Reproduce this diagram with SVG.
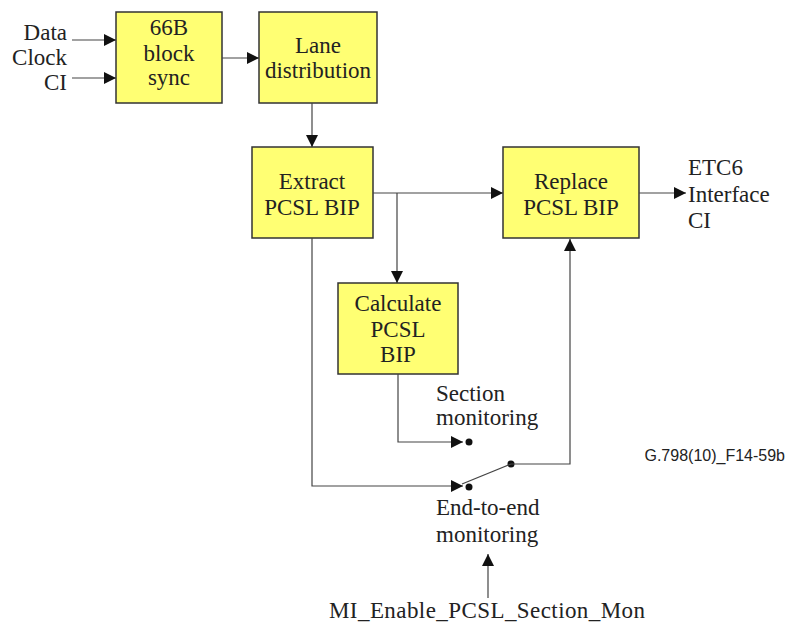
<svg xmlns="http://www.w3.org/2000/svg" width="788" height="626" viewBox="0 0 788 626">
<style>
.box{fill:#ffff73;stroke:#333;stroke-width:1.5}
.t{font-family:"Liberation Serif",serif;font-size:23px;fill:#222}
.c{text-anchor:middle}
.ln{fill:none;stroke:#444;stroke-width:1.2}
.dot{fill:#111}
</style>
<defs>
<marker id="ah" markerWidth="12" markerHeight="12" refX="12" refY="6" orient="auto" markerUnits="userSpaceOnUse">
<path d="M0,0 L12,6 L0,12 z" fill="#111"/>
</marker>
</defs>
<rect width="788" height="626" fill="#fff"/>
<g id="inputs">
<text class="t" x="67" y="40" text-anchor="end">Data</text>
<text class="t" x="67" y="65" text-anchor="end">Clock</text>
<text class="t" x="67" y="90" text-anchor="end">CI</text>
</g>
<g id="sync">
<rect class="box" x="116" y="12" width="106" height="91"/>
<text class="t c" x="169" y="35">66B</text>
<text class="t c" x="169" y="61">block</text>
<text class="t c" x="169" y="85">sync</text>
</g>
<g id="lane">
<rect class="box" x="259" y="12" width="118" height="91"/>
<text class="t c" x="318" y="53">Lane</text>
<text class="t c" x="318" y="78">distribution</text>
</g>
<g id="extract">
<rect class="box" x="252" y="147" width="121" height="91"/>
<text class="t c" x="312" y="189">Extract</text>
<text class="t c" x="312" y="215">PCSL BIP</text>
</g>
<g id="replace">
<rect class="box" x="503" y="147" width="136" height="91"/>
<text class="t c" x="571" y="189">Replace</text>
<text class="t c" x="571" y="215">PCSL BIP</text>
</g>
<g id="calculate">
<rect class="box" x="338" y="283" width="120" height="91"/>
<text class="t c" x="398" y="311">Calculate</text>
<text class="t c" x="398" y="337">PCSL</text>
<text class="t c" x="398" y="362">BIP</text>
</g>
<g id="output">
<text class="t" x="688" y="175">ETC6</text>
<text class="t" x="688" y="202">Interface</text>
<text class="t" x="688" y="228">CI</text>
</g>
<g id="section-label">
<text class="t" x="436" y="401">Section</text>
<text class="t" x="436" y="425">monitoring</text>
</g>
<g id="e2e-label">
<text class="t" x="436" y="515">End-to-end</text>
<text class="t" x="436" y="542">monitoring</text>
</g>
<g id="mi">
<text class="t" x="329" y="618" textLength="316" lengthAdjust="spacing">MI_Enable_PCSL_Section_Mon</text>
</g>
<g id="figid">
<text x="785" y="461" text-anchor="end" font-family="Liberation Sans,sans-serif" font-size="16" fill="#222">G.798(10)_F14-59b</text>
</g>
<g id="connectors">
<line class="ln" x1="72" y1="40" x2="116" y2="40" marker-end="url(#ah)"/>
<line class="ln" x1="72" y1="78" x2="116" y2="78" marker-end="url(#ah)"/>
<line class="ln" x1="222" y1="58" x2="259" y2="58" marker-end="url(#ah)"/>
<line class="ln" x1="312" y1="103" x2="312" y2="147" marker-end="url(#ah)"/>
<line class="ln" x1="373" y1="193" x2="503" y2="193" marker-end="url(#ah)"/>
<line class="ln" x1="397" y1="193" x2="397" y2="283" marker-end="url(#ah)"/>
<polyline class="ln" points="312,238 312,486 463,486" marker-end="url(#ah)"/>
<polyline class="ln" points="398,374 398,442 463,442" marker-end="url(#ah)"/>
<circle class="dot" cx="469" cy="442" r="3.5"/>
<circle class="dot" cx="469" cy="487" r="3.5"/>
<circle class="dot" cx="511" cy="464" r="3.5"/>
<line class="ln" x1="462" y1="484" x2="511" y2="464"/>
<polyline class="ln" points="511,464 570,464 570,239" marker-end="url(#ah)"/>
<line class="ln" x1="639" y1="193" x2="686" y2="193" marker-end="url(#ah)"/>
<line class="ln" x1="488" y1="598" x2="488" y2="554" marker-end="url(#ah)"/>
</g>
</svg>
